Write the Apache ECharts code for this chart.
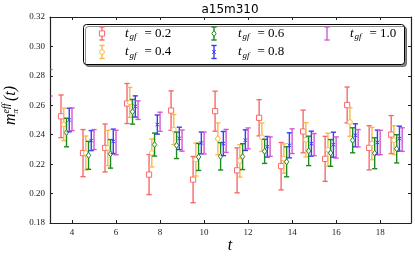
<!DOCTYPE html>
<html><head><meta charset="utf-8">
<script src="https://cdn.jsdelivr.net/npm/echarts@6/dist/echarts.min.js"></script>
<style>html,body{margin:0;padding:0;background:#fff}#c{width:415px;height:257px}</style>
</head><body><div id="c"></div>
<script>
const chartTitle = 'a15m310';
const tGroups = [4,5,6,7,8,9,10,11,12,13,14,15,16,17,18,19];
const tMagenta = [3,4,5,6,7,8,9,10,11,12,13,14,15,16,17,18,19];
const xTicks = [4,6,8,10,12,14,16,18];
const yTicks = [0.18,0.20,0.22,0.24,0.26,0.28,0.30,0.32];
const tgfLabels = ['0.2','0.4','0.6','0.8','1.0'];

const mean02 = [0.2525,0.2275,0.2310,0.2612,0.2129,0.2564,0.2095,0.2560,0.2158,0.2515,0.2186,0.2422,0.2236,0.2602,0.2311,0.2401];
const err02  = [0.0145,0.0160,0.0163,0.0136,0.0136,0.0134,0.0157,0.0136,0.0153,0.0123,0.0161,0.0145,0.0153,0.0122,0.0150,0.0129];
const mean04 = [0.2470,0.2276,0.2310,0.2620,0.2276,0.2435,0.2231,0.2372,0.2222,0.2383,0.2238,0.2366,0.2298,0.2486,0.2340,0.2363];
const err04  = [0.0110,0.0115,0.0120,0.0102,0.0095,0.0102,0.0112,0.0108,0.0110,0.0097,0.0100,0.0116,0.0112,0.0097,0.0110,0.0098];
const mean06 = [0.2415,0.2260,0.2270,0.2556,0.2333,0.2328,0.2249,0.2253,0.2251,0.2287,0.2216,0.2290,0.2276,0.2362,0.2274,0.2304];
const err06  = [0.0097,0.0095,0.0097,0.0084,0.0078,0.0090,0.0092,0.0093,0.0088,0.0082,0.0102,0.0100,0.0091,0.0085,0.0105,0.0096];
const mean08 = [0.2500,0.2360,0.2355,0.2592,0.2469,0.2375,0.2344,0.2340,0.2363,0.2318,0.2328,0.2339,0.2332,0.2396,0.2348,0.2373];
const err08  = [0.0080,0.0068,0.0083,0.0072,0.0065,0.0076,0.0074,0.0082,0.0070,0.0070,0.0085,0.0085,0.0085,0.0078,0.0083,0.0085];
const mean10 = [0.2753,0.2505,0.2367,0.2347,0.2567,0.2488,0.2360,0.2344,0.2358,0.2375,0.2319,0.2356,0.2333,0.2313,0.2376,0.2347,0.2367];
const err10  = [0.0090,0.0077,0.0068,0.0083,0.0063,0.0065,0.0072,0.0074,0.0078,0.0071,0.0066,0.0084,0.0075,0.0072,0.0059,0.0083,0.0080];

const seriesDefs = [
  {t: tGroups,  m: mean02, e: err02, color: '#f86a6a', marker: 'square'},
  {t: tGroups,  m: mean04, e: err04, color: '#fdb946', marker: 'circle'},
  {t: tGroups,  m: mean06, e: err06, color: '#1f8a1f', marker: 'diamond'},
  {t: tGroups,  m: mean08, e: err08, color: '#3b3bf6', marker: 'cross'},
  {t: tMagenta, m: mean10, e: err10, color: '#d35ad3', marker: 'none'}
];
const shiftStep = 0.125;

function markerShapes(kind, cx, cy, color, z) {
  const st = {fill: '#fff', stroke: color, lineWidth: 1};
  const zz = z || 0;
  if (kind === 'square') return [{type:'rect', z:zz, shape:{x:cx-2.6,y:cy-2.6,width:5.2,height:5.2}, style: st}];
  if (kind === 'circle') return [{type:'circle', z:zz, shape:{cx:cx,cy:cy,r:2.4}, style: st}];
  if (kind === 'diamond') return [{type:'polygon', z:zz, shape:{points:[[cx,cy-3],[cx+2.2,cy],[cx,cy+3],[cx-2.2,cy]]}, style: st}];
  if (kind === 'cross') return [
    {type:'line', z:zz, shape:{x1:cx-1.8,y1:cy-1.8,x2:cx+1.8,y2:cy+1.8}, style:{stroke:color,lineWidth:1}},
    {type:'line', z:zz, shape:{x1:cx-1.8,y1:cy+1.8,x2:cx+1.8,y2:cy-1.8}, style:{stroke:color,lineWidth:1}}];
  return [];
}
function errBar(cx, yTop, yBot, color, cap, z, xMin, xMax) {
  const s = {stroke: color, lineWidth: 1.4};
  const zz = z || 0;
  const lo = xMin === undefined ? -1e9 : xMin, hi = xMax === undefined ? 1e9 : xMax;
  const a = Math.max(cx - cap, lo), b = Math.min(cx + cap, hi);
  const out = [
    {type:'line', z:zz, shape:{x1:a,y1:yTop,x2:b,y2:yTop}, style:s},
    {type:'line', z:zz, shape:{x1:a,y1:yBot,x2:b,y2:yBot}, style:s}
  ];
  if (cx > lo + 0.5 && cx < hi - 0.5) out.unshift({type:'line', z:zz, shape:{x1:cx,y1:yTop,x2:cx,y2:yBot}, style:s});
  return out;
}

const series = seriesDefs.map((d, i) => {
  const off = -0.5 + shiftStep * i;
  return {
    type: 'custom',
    clip: true,
    z: 2 + i,
    data: d.t.map((t, k) => [t + off, d.m[k], d.e[k]]),
    renderItem: function (params, api) {
      const x = api.value(0), y = api.value(1), e = api.value(2);
      const top = api.coord([x, y + e]);
      const bot = api.coord([x, y - e]);
      const c = api.coord([x, y]);
      const cs = params.coordSys;
      const children = errBar(c[0], top[1], bot[1], d.color, 2.6, 0, cs.x + 0.6, cs.x + cs.width - 0.6)
        .concat(markerShapes(d.marker, c[0], c[1], d.color));
      return {type: 'group', children: children};
    }
  };
});

// legend graphics
const serif = '"Liberation Serif", "DejaVu Serif", serif';
const legendCols = [[102, 125], [214, 238], [327, 350]];
const legendRows = [33.5, 52];
const legendPos = [[0,0],[0,1],[1,0],[1,1],[2,0]];
const graphics = [];
graphics.push({type:'rect', shape:{x:83.5,y:24.5,width:321,height:40,r:3}, z:50,
  style:{fill:'#fff', stroke:'#000', lineWidth:1, shadowColor:'rgba(0,0,0,0.45)', shadowOffsetX:2, shadowOffsetY:2, shadowBlur:0}});
seriesDefs.forEach((d, i) => {
  const col = legendCols[legendPos[i][0]], ry = legendRows[legendPos[i][1]];
  const ix = col[0], tx = col[1];
  errBar(ix, ry - 6.5, ry + 6.5, d.color, 2.6, 60).forEach(el => graphics.push(el));
  markerShapes(d.marker, ix, ry, d.color, 61).forEach(el => graphics.push(el));
  graphics.push({type:'text', z:62, x: tx, y: ry, style:{text:'t', font:'italic 13px ' + serif, fill:'#000', verticalAlign:'middle', align:'left'}});
  graphics.push({type:'text', z:62, x: tx + 4.4, y: ry + 3.5, style:{text:'gf', font:'italic 9px ' + serif, fill:'#000', verticalAlign:'middle', align:'left'}});
  graphics.push({type:'text', z:62, x: tx + 19.5, y: ry, style:{text:'= ' + tgfLabels[i], font:'13px ' + serif, fill:'#000', verticalAlign:'middle', align:'left'}});
});
// title
graphics.push({type:'text', x:230, y:10, style:{text: chartTitle, font:'12px "DejaVu Sans", sans-serif', fill:'#000', align:'center', verticalAlign:'middle'}});
// x axis name
graphics.push({type:'text', x:230, y:246, style:{text:'t', font:'italic 16px ' + serif, fill:'#000', align:'center', verticalAlign:'middle'}});
// y axis name (rotated)
graphics.push({type:'group', x:11, y:125, rotation: Math.PI/2, children:[
  {type:'text', x:0, y:0, style:{text:'m', font:'italic 16px ' + serif, fill:'#000', align:'left', verticalAlign:'middle'}},
  {type:'text', x:11.5, y:-5, style:{text:'eff', font:'italic 10px ' + serif, fill:'#000', align:'left', verticalAlign:'middle'}},
  {type:'text', x:11.5, y:4.5, style:{text:'π', font:'italic 9px ' + serif, fill:'#000', align:'left', verticalAlign:'middle'}},
  {type:'text', x:24, y:0, style:{text:'(t)', font:'italic 16px ' + serif, fill:'#000', align:'left', verticalAlign:'middle'}}
]});

const axisLineStyle = {color:'#222', width:1.2};
const chart = echarts.init(document.getElementById('c'), null, {renderer:'canvas'});
chart.setOption({
  animation: false,
  backgroundColor: '#fff',
  grid: {left:50, right:4, top:17, bottom:34, outerBoundsMode:'none'},
  xAxis: [
    {type:'value', min:3, max:19.4, position:'bottom',
      axisLine:{show:true, onZero:false, lineStyle:axisLineStyle},
      axisTick:{show:true, inside:true, length:3, customValues:xTicks, lineStyle:{color:'#222'}},
      axisLabel:{show:true, customValues:xTicks, fontFamily:serif, fontSize:9, color:'#222', margin:5},
      splitLine:{show:false}},
    {type:'value', min:3, max:19.4, position:'top',
      axisLine:{show:true, onZero:false, lineStyle:axisLineStyle},
      axisTick:{show:true, inside:true, length:3, customValues:xTicks, lineStyle:{color:'#222'}},
      axisLabel:{show:false}, splitLine:{show:false}}
  ],
  yAxis: [
    {type:'value', min:0.18, max:0.32, position:'left',
      axisLine:{show:true, onZero:false, lineStyle:axisLineStyle},
      axisTick:{show:true, inside:true, length:3, customValues:yTicks, lineStyle:{color:'#222'}},
      axisLabel:{show:true, customValues:yTicks, fontFamily:serif, fontSize:9, color:'#222', margin:5,
        formatter: v => Number(v).toFixed(2)},
      splitLine:{show:false}},
    {type:'value', min:0.18, max:0.32, position:'right',
      axisLine:{show:true, onZero:false, lineStyle:axisLineStyle},
      axisTick:{show:true, inside:true, length:3, customValues:yTicks, lineStyle:{color:'#222'}},
      axisLabel:{show:false}, splitLine:{show:false}}
  ],
  series: series,
  graphic: graphics
});
</script></body></html>
